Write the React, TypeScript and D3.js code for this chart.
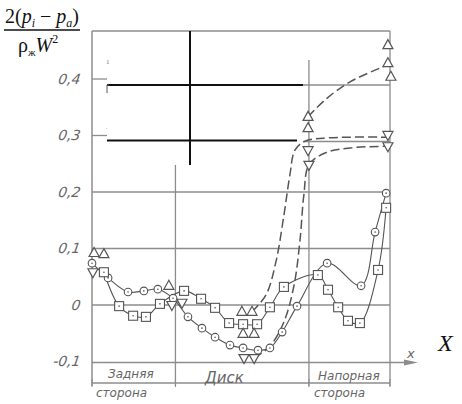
import React from "react";
import * as d3 from "d3";

// Data (x: relative position along the blade, 0..100; y: pressure coefficient)
const yTicks = [0.4, 0.3, 0.2, 0.1, 0, -0.1];
const yTickLabels = ["0,4", "0,3", "0,2", "0,1", "0", "-0,1"];

const circleX = [0, 5.4, 12.1, 17.4, 22.1, 27.2, 32.2, 36.9, 41.3, 46.3, 50.7, 55.7, 59.7, 63.8, 68.8, 78.9, 90.3, 95.0, 98.7];
const circleY = [0.074, 0.048, 0.023, 0.025, 0.028, 0.012, -0.021, -0.041, -0.057, -0.071, -0.076, -0.08, -0.076, -0.048, -0.002, 0.074, 0.034, 0.129, 0.198];

const squareX = [4.0, 9.1, 13.8, 18.1, 22.8, 30.9, 36.6, 41.3, 46.0, 50.7, 55.4, 59.7, 64.4, 75.8, 79.2, 82.6, 85.9, 89.9, 96.0, 98.7];
const squareY = [0.058, -0.002, -0.019, -0.021, 0.002, 0.025, 0.011, -0.005, -0.032, -0.034, -0.034, -0.004, 0.032, 0.053, 0.027, -0.004, -0.028, -0.032, 0.062, 0.172];

const triUpX = [0.7, 4.0, 25.8, 50.3, 53.7, 50.7, 54.4, 72.5, 72.5, 99.3, 99.3, 100.3];
const triUpY = [0.092, 0.09, 0.034, -0.012, -0.012, -0.051, -0.051, 0.333, 0.313, 0.46, 0.428, 0.404];

const triDownX = [0.3, 26.8, 30.2, 51.0, 54.4, 72.5, 72.8, 99.3, 99.3];
const triDownY = [0.058, 0.0, 0.004, -0.094, -0.094, 0.274, 0.248, 0.301, 0.281];

const dashAX = [53.7, 58.4, 61.7, 64.4, 66.4, 68.1, 71.5, 79.9, 99.3];
const dashAY = [-0.012, 0.018, 0.076, 0.159, 0.23, 0.274, 0.29, 0.296, 0.297];
const dashBX = [54.4, 59.7, 64.4, 67.8, 69.8, 71.1, 72.8, 78.2, 86.6, 99.3];
const dashBY = [-0.094, -0.073, -0.03, 0.035, 0.115, 0.195, 0.248, 0.269, 0.278, 0.281];
const dashCX = [72.5, 78.2, 86.6, 99.3];
const dashCY = [0.333, 0.363, 0.395, 0.425];

const regionBounds = [0, 28, 72.8, 100];

const zip = (xs: number[], ys: number[]) => xs.map((x, i) => [x, ys[i]] as [number, number]);

export default function App() {
  const W = 462, H = 404;
  const x = d3.scaleLinear().domain([0, 100]).range([92, 390]);
  const y = d3.scaleLinear().domain([0, 0.1]).range([305, 248.5]);
  const grid = "#8c8c8c";
  const ink = "#555";

  const line = d3.line<[number, number]>().x(d => x(d[0])).y(d => y(d[1])).curve(d3.curveCatmullRom.alpha(0.5));

  const triUp = (cx: number, cy: number, k: number) => (
    <path key={"tu" + k} d={`M${cx},${cy - 5.5}L${cx + 5},${cy + 3.5}L${cx - 5},${cy + 3.5}Z`} fill="white" stroke={ink} strokeWidth={1.2} />
  );
  const triDown = (cx: number, cy: number, k: number) => (
    <path key={"td" + k} d={`M${cx},${cy + 5.5}L${cx + 5},${cy - 3.5}L${cx - 5},${cy - 3.5}Z`} fill="white" stroke={ink} strokeWidth={1.2} />
  );

  const hand = { fontFamily: "DejaVu Sans", fontStyle: "italic", fill: "#666" } as const;

  return (
    <svg width={W} height={H} style={{ position: "absolute", left: 0, top: 0, background: "white" }}>
      <rect x={0} y={0} width={W} height={H} fill="white" />
      {/* frame */}
      <line x1={92} x2={390} y1={31} y2={31} stroke={grid} strokeWidth={1.3} />
      <line x1={92} x2={92} y1={31} y2={386} stroke={grid} strokeWidth={1.5} />
      <line x1={390} x2={390} y1={31} y2={386} stroke={grid} strokeWidth={1.3} />
      <line x1={x(regionBounds[1])} x2={x(regionBounds[1])} y1={165} y2={386} stroke={grid} strokeWidth={1.3} />
      <line x1={x(regionBounds[2])} x2={x(regionBounds[2])} y1={60} y2={386} stroke={grid} strokeWidth={1.3} />
      {/* grid lines */}
      {yTicks.map((t, i) => {
        if (t === 0.4 || t === 0.3) {
          return (
            <g key={"g" + i}>
              <line x1={92} x2={107} y1={y(t)} y2={y(t)} stroke={grid} strokeWidth={1.3} />
              <line x1={303} x2={390} y1={y(t) + 6} y2={y(t) + 6} stroke={grid} strokeWidth={1.3} />
            </g>
          );
        }
        if (t === -0.1) {
          return <line key={"g" + i} x1={92} x2={412} y1={y(t) + 1} y2={y(t) + 1} stroke={grid} strokeWidth={1.6} />;
        }
        return <line key={"g" + i} x1={92} x2={390} y1={y(t)} y2={y(t)} stroke={grid} strokeWidth={1.5} />;
      })}
      {/* x arrow */}
      <path d={`M404,${y(-0.1) - 2}L418,${y(-0.1) + 1}L404,${y(-0.1) + 4}Z`} fill={grid} />
      <text x={407} y={358} fontSize={13} {...hand}>x</text>
      {/* tick labels */}
      {yTicks.map((t, i) => (
        <text key={"t" + i} x={80} y={y(t) + 5} textAnchor="end" fontSize={14} {...hand} transform={`skewX(-8)`} dx={(y(t) + 5) * Math.tan(8 * Math.PI / 180)}>
          {yTickLabels[i]}
        </text>
      ))}
      {/* curves */}
      <path d={line(zip(circleX, circleY)) || ""} fill="none" stroke={ink} strokeWidth={1.1} />
      <path d={line(zip(squareX, squareY)) || ""} fill="none" stroke={ink} strokeWidth={1.1} />
      <path d={line(zip(dashAX, dashAY)) || ""} fill="none" stroke={ink} strokeWidth={1.5} strokeDasharray="9,4" />
      <path d={line(zip(dashBX, dashBY)) || ""} fill="none" stroke={ink} strokeWidth={1.5} strokeDasharray="9,4" />
      <path d={line(zip(dashCX, dashCY)) || ""} fill="none" stroke={ink} strokeWidth={1.5} strokeDasharray="9,4" />
      {/* markers */}
      {circleX.map((cx, i) => (
        <g key={"c" + i}>
          <circle cx={x(cx)} cy={y(circleY[i])} r={3.8} fill="white" stroke={ink} strokeWidth={1.1} />
          <circle cx={x(cx)} cy={y(circleY[i])} r={0.8} fill={ink} />
        </g>
      ))}
      {squareX.map((sx, i) => (
        <g key={"s" + i}>
          <rect x={x(sx) - 4.5} y={y(squareY[i]) - 4.5} width={9} height={9} fill="white" stroke={ink} strokeWidth={1.1} />
          <circle cx={x(sx)} cy={y(squareY[i])} r={0.8} fill={ink} />
        </g>
      ))}
      {triUpX.map((tx, i) => triUp(x(tx), y(triUpY[i]), i))}
      {triDownX.map((tx, i) => triDown(x(tx), y(triDownY[i]), i))}
      {/* black overlay lines */}
      <line x1={107} x2={303} y1={y(0.4) + 6} y2={y(0.4) + 6} stroke="#111" strokeWidth={2} />
      <line x1={107} x2={297} y1={y(0.3) + 5} y2={y(0.3) + 5} stroke="#111" strokeWidth={2} />
      <line x1={190} x2={190} y1={31} y2={165} stroke="#111" strokeWidth={2} />
      <path d={`M109,${y(0.4) + 6}L107,${y(0.4) + 6}L107,${y(0.4) + 14}`} fill="none" stroke="#555" strokeWidth={1} />
      <text x={106} y={64} fontSize={7} fill="#777">1</text>
      <text x={106} y={128} fontSize={5} fill="#999">,</text>
      {/* bottom region dimension line */}
      <line x1={92} x2={390} y1={383} y2={383} stroke={grid} strokeWidth={1.3} />
      {regionBounds.map((b, i) => (
        <line key={"rb" + i} x1={x(b)} x2={x(b)} y1={379} y2={387} stroke={grid} strokeWidth={1} />
      ))}
      <text x={108} y={378} fontSize={12} {...hand}>Задняя</text>
      <text x={96} y={397} fontSize={12} {...hand}>сторона</text>
      <text x={205} y={383} fontSize={15} {...hand}>Диск</text>
      <text x={318} y={380} fontSize={12} {...hand}>Напорная</text>
      <text x={314} y={397} fontSize={12} {...hand}>сторона</text>
      {/* axis titles */}
      <text x={5} y={23} fontSize={20} fontFamily="Liberation Serif" fill="#111">
        2(<tspan fontStyle="italic">p</tspan><tspan fontSize={12} dy={4} fontStyle="italic">i</tspan><tspan dy={-4}> − </tspan><tspan fontStyle="italic">p</tspan><tspan fontSize={12} dy={4} fontStyle="italic">a</tspan><tspan dy={-4}>)</tspan>
      </text>
      <line x1={4} x2={80} y1={30} y2={30} stroke="#111" strokeWidth={1.4} />
      <text x={18} y={52} fontSize={20} fontFamily="Liberation Serif" fill="#111">
        ρ<tspan fontSize={11} dy={4}>ж</tspan><tspan dy={-4} fontStyle="italic">W</tspan><tspan fontSize={12} dy={-9}>2</tspan>
      </text>
      <text x={438} y={351} fontSize={24} fontStyle="italic" fontFamily="Liberation Serif" fill="#111">X</text>
    </svg>
  );
}
